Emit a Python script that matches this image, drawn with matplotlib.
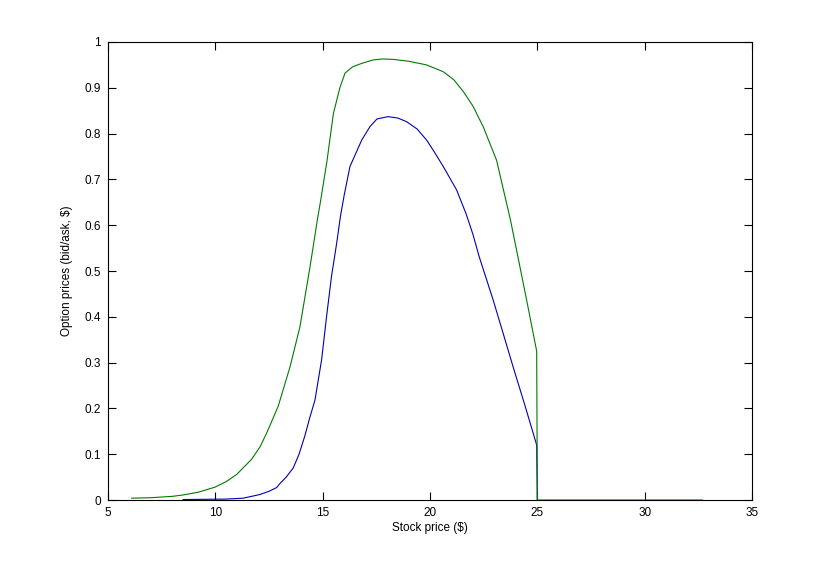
import matplotlib
matplotlib.use("Agg")
import matplotlib.pyplot as plt

# ================= DATA =================
ask_x = [6.1, 7.0, 8.0, 8.5, 9.2, 9.98, 10.5, 11.0, 11.69, 12.08, 12.39, 12.93,
         13.48, 13.94, 14.41, 14.75, 14.91, 15.2, 15.5, 15.8, 16.04, 16.4,
         16.8, 17.36, 17.8, 18.29, 19.0, 19.84, 20.62, 21.1, 21.55, 22.0,
         22.48, 23.1, 23.75, 24.1, 24.5, 24.97, 25.0, 26.0, 28.0, 30.0, 32.7]
ask_y = [0.004, 0.005, 0.008, 0.011, 0.017, 0.028, 0.04, 0.056, 0.089, 0.116,
         0.146, 0.205, 0.291, 0.378, 0.509, 0.611, 0.655, 0.74, 0.844, 0.9,
         0.932, 0.946, 0.953, 0.961, 0.963, 0.962, 0.958, 0.950, 0.935,
         0.918, 0.892, 0.86, 0.815, 0.742, 0.611, 0.53, 0.437, 0.325, 0.0,
         0.0, 0.0, 0.0, 0.0]

bid_x = [8.5, 9.5, 10.5, 11.3, 12.08, 12.5, 12.85, 13.01, 13.3, 13.63, 13.9,
         14.17, 14.4, 14.64, 14.95, 15.18, 15.41, 15.65, 15.83, 16.0, 16.27,
         16.82, 17.2, 17.53, 18.04, 18.5, 18.91, 19.4, 19.84, 20.2, 20.62,
         21.24, 21.68, 22.0, 22.3, 22.94, 23.4, 23.87, 24.4, 24.97, 25.0]
bid_y = [0.001, 0.0015, 0.002, 0.004, 0.012, 0.019, 0.027, 0.036, 0.05, 0.07,
         0.1, 0.14, 0.18, 0.218, 0.306, 0.4, 0.488, 0.56, 0.62, 0.665, 0.728,
         0.786, 0.815, 0.832, 0.837, 0.834, 0.826, 0.81, 0.786, 0.76, 0.728,
         0.677, 0.625, 0.58, 0.53, 0.437, 0.365, 0.291, 0.21, 0.12, 0.0]

x_ticks = [5, 10, 15, 20, 25, 30, 35]
y_ticks = [0, 0.1, 0.2, 0.3, 0.4, 0.5, 0.6, 0.7, 0.8, 0.9, 1]
y_tick_labels = ["0", "0.1", "0.2", "0.3", "0.4", "0.5", "0.6", "0.7", "0.8", "0.9", "1"]
# =========================================

plt.rcParams["font.family"] = ["Liberation Sans", "DejaVu Sans"]

fig = plt.figure(figsize=(8.29, 5.63), dpi=100)
ax = fig.add_axes([0.1303, 0.1119, 0.7768, 0.8135])

ax.plot(bid_x, bid_y, color="#0000b0", linewidth=0.8)
ax.plot(ask_x, ask_y, color="#007a00", linewidth=0.8)

ax.set_xlim(5, 35)
ax.set_ylim(0, 1)
ax.set_xticks(x_ticks)
ax.set_xticklabels([str(t) for t in x_ticks])
ax.set_yticks(y_ticks)
ax.set_yticklabels(y_tick_labels)
ax.tick_params(direction="in", length=6, width=0.8, labelsize=8.5,
               top=True, right=True, pad=5)
for s in ax.spines.values():
    s.set_linewidth(0.8)

ax.set_xlabel("Stock price (\\$)", fontsize=8.5, labelpad=2)
ax.set_ylabel("Option prices (bid/ask, \\$)", fontsize=8.5, labelpad=8)

fig.savefig("out.png", dpi=100)
